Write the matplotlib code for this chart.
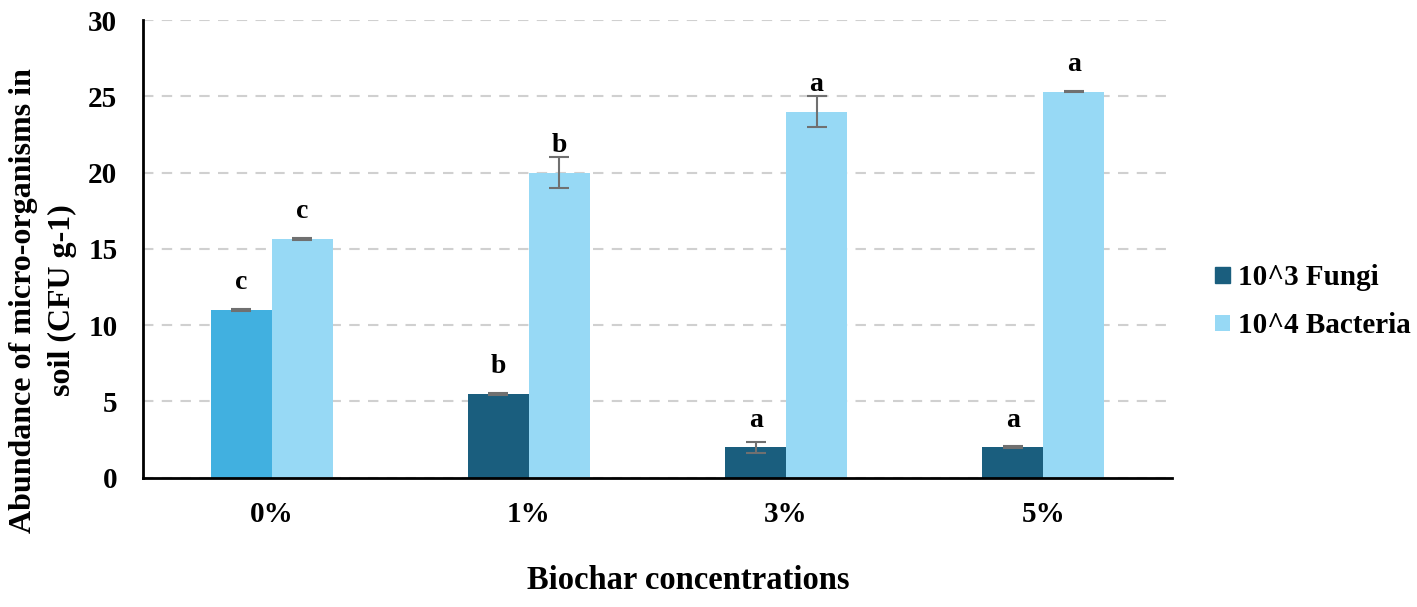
import matplotlib.pyplot as plt
import numpy as np

categories = ['0%', '1%', '3%', '5%']
fungi = [11.0, 5.5, 2.0, 2.0]
fungi_err = [0.05, 0.05, 0.35, 0.05]
bacteria = [15.65, 20.0, 24.0, 25.3]
bacteria_err = [0.05, 1.0, 1.0, 0.05]
fungi_letters = ['c', 'b', 'a', 'a']
bacteria_letters = ['c', 'b', 'a', 'a']

plt.rcParams['font.family'] = ['Liberation Serif', 'DejaVu Serif']
plt.rcParams['font.weight'] = 'bold'

fig = plt.figure(figsize=(14.17, 6.07), dpi=100)
ax = fig.add_axes([0.101, 0.213, 0.726, 0.754])

x = np.arange(len(categories))
w = 0.237
fcolors = ['#41B0E0', '#1A5E7E', '#1A5E7E', '#1A5E7E']
ax.bar(x - w / 2, fungi, w, color=fcolors, label='10^3 Fungi', zorder=2)
ax.bar(x + w / 2, bacteria, w, color='#97D9F5', label='10^4 Bacteria', zorder=2)
ax.errorbar(x - w / 2, fungi, yerr=fungi_err, fmt='none', ecolor='#707070',
            elinewidth=1.5, capsize=7, capthick=1.5, zorder=3)
ax.errorbar(x + w / 2, bacteria, yerr=bacteria_err, fmt='none', ecolor='#707070',
            elinewidth=1.5, capsize=7, capthick=1.5, zorder=3)

# letters sit a fixed distance above the bar value
for i in range(len(categories)):
    ax.text(x[i] - w / 2, fungi[i] + 1.35, fungi_letters[i], ha='center',
            va='baseline', fontsize=20, fontweight='bold')
    ax.text(x[i] + w / 2, bacteria[i] + 1.35, bacteria_letters[i], ha='center',
            va='baseline', fontsize=20, fontweight='bold')

ax.set_xlim(-0.5, 3.5)
ax.set_ylim(0, 30)
ax.set_yticks(range(0, 31, 5))
ax.set_xticks(x)
ax.set_xticklabels(categories)
ax.tick_params(axis='both', length=0, labelsize=21)
ax.tick_params(axis='x', pad=17)
ax.tick_params(axis='y', pad=18.5)
ax.yaxis.grid(True, linestyle=(0, (5, 4)), color='#D0D0D0', linewidth=1.5, zorder=0)
ax.set_axisbelow(True)
for s in ['top', 'right']:
    ax.spines[s].set_visible(False)
ax.spines['left'].set_linewidth(2)
ax.spines['bottom'].set_linewidth(2)

fig.text(0.0305, 0.505, 'Abundance of micro-organisms in\nsoil (CFU g-1)', rotation=90,
         ha='center', va='center', fontsize=23, fontweight='bold', linespacing=1.45)
fig.text(0.486, 0.043, 'Biochar concentrations', ha='center', va='center',
         fontsize=23.5, fontweight='bold')

handles, labels = ax.get_legend_handles_labels()
leg = fig.legend(handles, labels, loc='center left', bbox_to_anchor=(0.839, 0.503),
                 frameon=False, prop={'family': 'Liberation Serif', 'weight': 'bold', 'size': 21},
                 handlelength=0.5, handleheight=0.5, labelspacing=0.72, handletextpad=0.3)
leg.legend_handles[0].set_color('#1A5E7E')

fig.savefig('out.png', dpi=100)
